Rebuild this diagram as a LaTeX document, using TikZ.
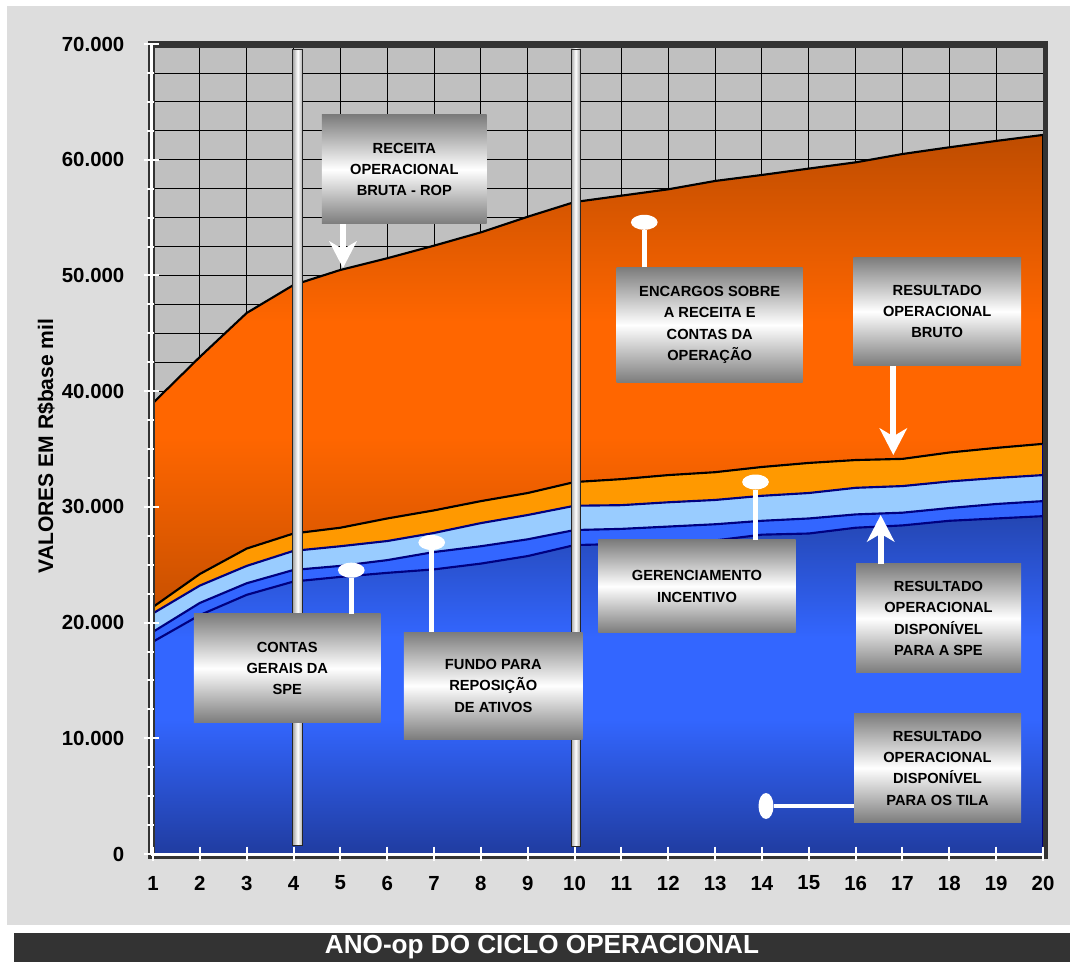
\documentclass[tikz,border=0pt]{standalone}
\usepackage{fontspec}
\setmainfont{Liberation Sans}
\usetikzlibrary{arrows.meta,shapes.geometric}
\definecolor{panel}{RGB}{221,221,221}
\definecolor{gridbg}{RGB}{192,192,192}
\definecolor{framec}{RGB}{51,51,51}
\definecolor{ropT}{RGB}{190,76,0}
\definecolor{ropM}{RGB}{255,102,0}
\definecolor{ropD}{RGB}{200,80,0}
\definecolor{robC}{RGB}{255,153,0}
\definecolor{lbC}{RGB}{153,204,255}
\definecolor{bbC}{RGB}{51,102,255}
\definecolor{dbT}{RGB}{36,70,178}
\definecolor{dbB}{RGB}{32,60,160}
\definecolor{navyc}{RGB}{0,0,128}
\definecolor{boxgray}{RGB}{124,124,124}
\pgfdeclareverticalshading{ropshade}{100bp}{color(0bp)=(ropD); color(42bp)=(ropD); color(54bp)=(ropM); color(62bp)=(ropM); color(75bp)=(ropT); color(100bp)=(ropT)}
\pgfdeclareverticalshading{dbshade}{100bp}{color(0bp)=(dbB); color(25bp)=(dbB); color(45bp)=(bbC); color(57bp)=(bbC); color(75bp)=(dbT); color(100bp)=(dbT)}
\begin{document}
\begin{tikzpicture}[x=0.75pt,y=-0.75pt,
  gridline/.style={black,line width=0.75pt},
  ropline/.style={black,line width=1.6pt,line join=round},
  navyline/.style={navyc,line width=1.6pt,line join=round},
  labelbox/.style={rectangle,inner sep=0pt,align=center,top color=boxgray,bottom color=boxgray,middle color=white,font=\fontsize{11}{16}\selectfont\bfseries,text=black},
  knob/.style={ellipse,fill=white,inner sep=0pt,minimum width=20pt,minimum height=11.25pt},
  stick/.style={white,line width=3.4pt},
  whitearrow/.style={white,line width=4.5pt,-{Stealth[length=20pt,width=20.5pt,inset=6pt]}},
  pillar/.style={draw=black!85,line width=0.6pt,left color=gray!70,right color=gray!70,middle color=white},
  axnum/.style={font=\fontsize{15.3}{18}\selectfont\bfseries,text=black},
  tickline/.style={white,line width=1.5pt}]
\useasboundingbox (0,0) rectangle (1070,962);
\fill[white] (0,0) rectangle (1070,962);
\fill[panel] (7,6) rectangle (1070,925);
\fill[framec] (14,933) rectangle (1070,962);
\node[text=white,font=\fontsize{19.6}{22}\selectfont\bfseries] (xtitle) at (542,947.5) {ANO-op DO CICLO OPERACIONAL};
% plot background
\fill[gridbg] (153,44) rectangle (1043,854);
\begin{scope}[shift={(106.158,854)},x=35.1316pt,y=8.6775pt]
  \foreach \i in {2,...,19} \draw[gridline] (\i,0) -- (\i,70);
  \foreach \k in {1,...,27} \draw[gridline] (1,{\k*2.5}) -- (20,{\k*2.5});
  % data
  \foreach \i/\v in {1/38.98,2/42.96,3/46.76,4/49.18,5/50.48,6/51.49,7/52.58,8/53.73,9/55.08,10/56.35,11/56.9,12/57.45,13/58.17,14/58.69,15/59.24,16/59.78,17/60.5,18/61.08,19/61.63,20/62.15}
    \coordinate (rop\i) at (\i,\v);
  \foreach \i/\v in {1/21.35,2/24.2,3/26.4,4/27.7,5/28.2,6/29.0,7/29.7,8/30.5,9/31.2,10/32.15,11/32.4,12/32.75,13/33.0,14/33.45,15/33.8,16/34.05,17/34.15,18/34.7,19/35.1,20/35.45}
    \coordinate (rob\i) at (\i,\v);
  \foreach \i/\v in {1/20.8,2/23.2,3/24.9,4/26.2,5/26.6,6/27.05,7/27.75,8/28.6,9/29.3,10/30.1,11/30.15,12/30.4,13/30.6,14/30.96,15/31.2,16/31.65,17/31.8,18/32.2,19/32.5,20/32.75}
    \coordinate (lbt\i) at (\i,\v);
  \foreach \i/\v in {1/19.2,2/21.7,3/23.4,4/24.55,5/24.9,6/25.4,7/26.1,8/26.6,9/27.2,10/28.0,11/28.1,12/28.3,13/28.5,14/28.8,15/29.0,16/29.35,17/29.5,18/29.9,19/30.25,20/30.5}
    \coordinate (bbt\i) at (\i,\v);
  \foreach \i/\v in {1/18.35,2/20.65,3/22.4,4/23.55,5/23.95,6/24.3,7/24.6,8/25.1,9/25.75,10/26.7,11/26.8,12/27.05,13/27.1,14/27.6,15/27.7,16/28.2,17/28.4,18/28.8,19/29.0,20/29.2}
    \coordinate (dbt\i) at (\i,\v);
  \coordinate (base1) at (1,0);
  \coordinate (base20) at (20,0);
  \shade[shading=ropshade] (base1) \foreach \i in {1,...,20}{ -- (rop\i)} -- (base20) -- cycle;
  \fill[robC] (base1) \foreach \i in {1,...,20}{ -- (rob\i)} -- (base20) -- cycle;
  \fill[lbC] (base1) \foreach \i in {1,...,20}{ -- (lbt\i)} -- (base20) -- cycle;
  \fill[bbC] (base1) \foreach \i in {1,...,20}{ -- (bbt\i)} -- (base20) -- cycle;
  \shade[shading=dbshade] (base1) \foreach \i in {1,...,20}{ -- (dbt\i)} -- (base20) -- cycle;
  \draw[navyline] (dbt1) \foreach \i in {2,...,20}{ -- (dbt\i)};
  \draw[navyline] (bbt1) \foreach \i in {2,...,20}{ -- (bbt\i)};
  \draw[navyline] (lbt1) \foreach \i in {2,...,20}{ -- (lbt\i)};
  \draw[ropline] (rob1) \foreach \i in {2,...,20}{ -- (rob\i)};
  \draw[ropline] (rop1) \foreach \i in {2,...,20}{ -- (rop\i)};
  \draw[ropline] (rop20) -- (rob20);
  \draw[navyline] (rob20) -- (base20);
\end{scope}
% frame and axes
\draw[framec,line width=5.25pt] (148,44.5) -- (1047.5,44.5);
\draw[framec,line width=3.4pt] (1045.3,41) -- (1045.3,858.5);
\draw[framec,line width=5.25pt] (151.5,41) -- (151.5,859);
\draw[white,line width=2.5pt] (151.7,44) -- (151.7,856);
\draw[framec,line width=4pt] (148,856.5) -- (1047.5,856.5);
\draw[white,line width=2.25pt] (151,854.5) -- (1043,854.5);
\foreach \k in {0,...,28} \draw[tickline] (146.7,{854-\k*28.925}) -- (154,{854-\k*28.925});
\foreach \k in {0,...,7} \draw[tickline] (144,{854-\k*115.7}) -- (159,{854-\k*115.7});
\foreach \i in {1,...,20} \draw[tickline] ({153+(\i-1)*46.842},846.7) -- ({153+(\i-1)*46.842},861);
% axis labels
\foreach \k/\t in {0/0,1/10.000,2/20.000,3/30.000,4/40.000,5/50.000,6/60.000,7/70.000}
  \node[axnum,anchor=east] (ylab\k) at (129,{854-\k*115.7}) {\t};
\foreach \i in {1,...,20}
  \node[axnum] (xlab\i) at ({153+(\i-1)*46.842},883) {\i};
\node[rotate=90,font=\fontsize{15.8}{18}\selectfont\bfseries] (ytitle) at (46,446) {VALORES EM R\$base mil};
% pillars
\path[pillar] (292.7,49.3) rectangle (302.7,845.7);
\path[pillar] (571,49) rectangle (580.3,846);
% label boxes
\node[labelbox,minimum width=123.5pt,minimum height=81.75pt] (rop) at (404.3,169.5) {RECEITA\\OPERACIONAL\\BRUTA - ROP};
\node[labelbox,minimum width=139.5pt,minimum height=86.5pt] (enc) at (709.7,325) {ENCARGOS SOBRE\\A RECEITA E\\CONTAS DA\\OPERAÇÃO};
\node[labelbox,minimum width=125.8pt,minimum height=81.3pt] (rob) at (937.2,311.5) {RESULTADO\\OPERACIONAL\\BRUTO};
\node[labelbox,minimum width=123.75pt,minimum height=81.5pt] (spe) at (938.5,618.3) {RESULTADO\\OPERACIONAL\\DISPONÍVEL\\PARA A SPE};
\node[labelbox,minimum width=125.25pt,minimum height=82pt] (tila) at (937.5,768) {RESULTADO\\OPERACIONAL\\DISPONÍVEL\\PARA OS TILA};
\node[labelbox,minimum width=148pt,minimum height=69.5pt] (ger) at (697,586.3) {GERENCIAMENTO\\INCENTIVO};
\node[labelbox,minimum width=134pt,minimum height=80.5pt] (fun) at (493.3,685.7) {FUNDO PARA\\REPOSIÇÃO\\DE ATIVOS};
\node[labelbox,minimum width=140pt,minimum height=81.5pt] (con) at (287.3,668.3) {CONTAS\\GERAIS DA\\SPE};
% arrows
\coordinate (ropTip) at (343,268);
\coordinate (robTip) at (893.3,455);
\coordinate (speTip) at (880.7,515);
\draw[whitearrow] (rop.south -| ropTip) -- (ropTip);
\draw[whitearrow] (rob.south -| robTip) -- (robTip);
\draw[whitearrow] (spe.north -| speTip) -- (speTip);
% knobs and sticks
\node[knob] (encDot) at (644.3,222.3) {};
\node[knob] (gerDot) at (755.5,482) {};
\node[knob] (funDot) at (431.7,542.5) {};
\node[knob] (conDot) at (351.3,570.2) {};
\node[knob,minimum width=11.25pt,minimum height=19.5pt] (tilaDot) at (766,806) {};
\draw[stick] (enc.north -| encDot) -- (encDot);
\draw[stick] (ger.north -| gerDot) -- (gerDot);
\draw[stick] (fun.north -| funDot) -- (funDot);
\draw[stick] (con.north -| conDot) -- (conDot);
\draw[stick] (tila.west |- tilaDot) -- (tilaDot);
\end{tikzpicture}
\end{document}
